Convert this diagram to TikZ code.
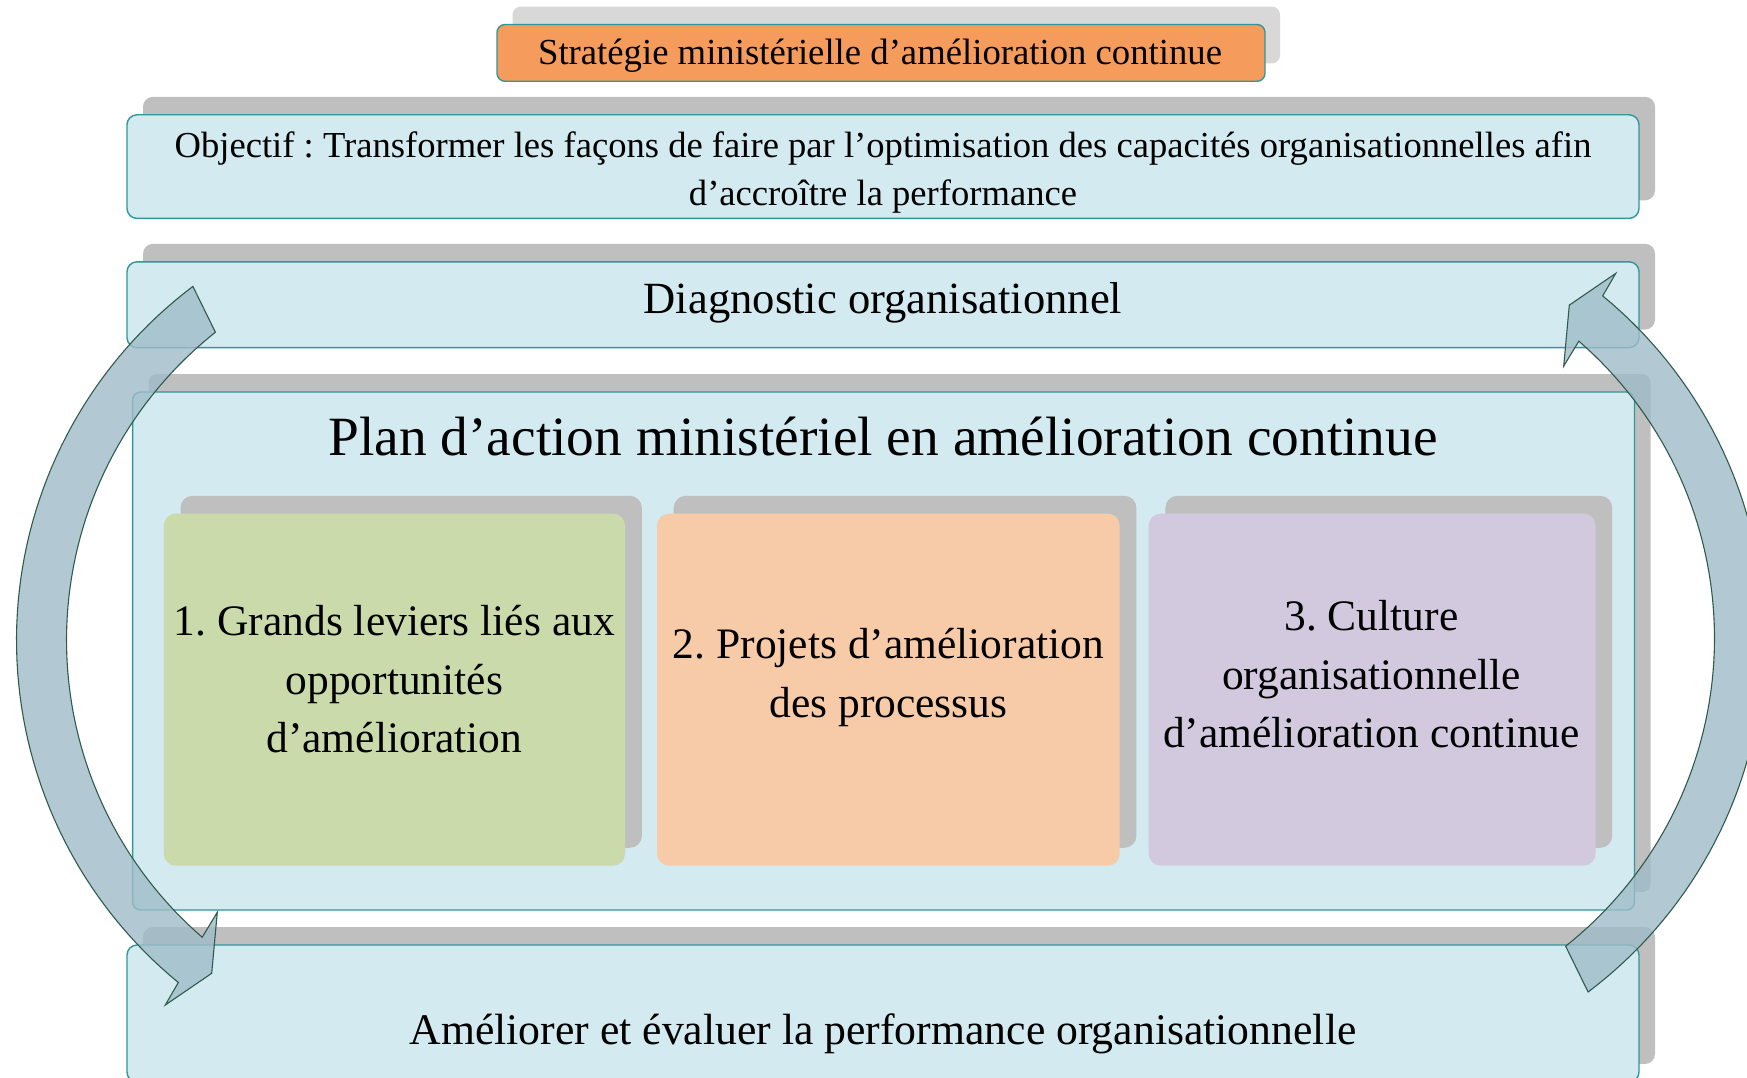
\documentclass[tikz,border=0pt]{standalone}
\usepackage{fontspec}
\setmainfont{Liberation Serif}
\frenchspacing

\definecolor{paleblue}{HTML}{D2EAF0}
\definecolor{tealline}{HTML}{31979B}
\definecolor{shadowgrey}{HTML}{BFBFBF}
\definecolor{lightgrey}{HTML}{D8D8D8}
\definecolor{titleorange}{HTML}{F59C5C}
\definecolor{leafgreen}{HTML}{CBDAAA}
\definecolor{peach}{HTML}{F8CBA8}
\definecolor{lilac}{HTML}{D2C9DF}
\definecolor{cyclefill}{HTML}{9FBCC9}
\definecolor{cycleline}{HTML}{2F5B4A}

\begin{document}
\begin{tikzpicture}[x=1pt,y=-1pt,
  panel/.style={draw=tealline, line width=1.4pt, fill=paleblue, rounded corners=10pt},
  backing/.style={fill=shadowgrey, rounded corners=10pt},
  tile/.style={rounded corners=12pt},
  label/.style={inner sep=0pt, align=center, text=black},
  cycle arrow/.style={fill=cyclefill, fill opacity=0.8, draw=cycleline, line width=1.1pt, line join=miter}
]
\useasboundingbox (0,0) rectangle (1747,1078);
\clip (0,0) rectangle (1747,1078);

% title banner
\path[fill=lightgrey, rounded corners=8pt] (512.5,6.7) rectangle (1280,63.5);
\path[draw=tealline, line width=1.4pt, fill=titleorange, rounded corners=8pt] (497,24.5) rectangle (1265,81.3);

% objective
\path[backing] (143,96.8) rectangle (1655,200.4);
\path[panel] (127,114.8) rectangle (1639,218.4);

% diagnostic
\path[backing] (143,243.8) rectangle (1655,329.6);
\path[panel] (127,261.8) rectangle (1639,347.6);

% action plan frame
\path[backing, rounded corners=8pt] (148.6,374) rectangle (1650.5,892);
\path[panel, rounded corners=8pt] (132.6,392) rectangle (1634.5,910);

% the three axes of the plan
\path[fill=shadowgrey, tile] (180.5,495.8) rectangle (641.8,847.8);
\path[fill=leafgreen, tile] (163.8,513.6) rectangle (625,865.7);
\path[fill=shadowgrey, tile] (673.7,495.8) rectangle (1136.4,847.8);
\path[fill=peach, tile] (657,513.6) rectangle (1119.7,865.7);
\path[fill=shadowgrey, tile] (1165.4,495.8) rectangle (1612.2,847.8);
\path[fill=lilac, tile] (1148.7,513.6) rectangle (1595.5,865.7);

% performance
\path[backing] (143,927) rectangle (1655,1064);
\path[panel] (127,945) rectangle (1639,1082);

% texts
\node[label, font=\fontsize{36.7pt}{44pt}\selectfont] (strategie) at (880,56)
  {Stratégie ministérielle d’amélioration continue};
\node[label, font=\fontsize{36.6pt}{48pt}\selectfont] (objectif) at (883,173)
  {Objectif : Transformer les façons de faire par l’optimisation des capacités organisationnelles afin\\d’accroître la performance};
\node[label, font=\fontsize{44.6pt}{54pt}\selectfont] (diagnostic) at (883,303)
  {Diagnostic organisationnel};
\node[label, font=\fontsize{55.4pt}{66pt}\selectfont] (plan) at (883,437)
  {Plan d’action ministériel en amélioration continue};
\node[label, font=\fontsize{43.5pt}{58.5pt}\selectfont] (leviers) at (394.4,679.5)
  {1. Grands leviers liés aux\\opportunités\\d’amélioration};
\node[label, font=\fontsize{43.5pt}{58.5pt}\selectfont] (projets) at (888.5,677.5)
  {2. Projets d’amélioration\\des processus};
\node[label, font=\fontsize{43.5pt}{58.5pt}\selectfont] (culture) at (1371.5,674.5)
  {3. Culture\\organisationnelle\\d’amélioration continue};
\node[label, font=\fontsize{43.7pt}{54pt}\selectfont] (performance) at (883,1033.5)
  {Améliorer et évaluer la performance organisationnelle};

% improvement cycle: left arrow runs downward, right arrow is its half-turn copy
\newcommand{\cyclearrow}{%
  \path[cycle arrow]
    plot[domain=233:129.4, samples=70] ({459.5+443*cos(\x)},{640.2+443*sin(\x)})
    -- (165.3,1005) -- (211.7,973.3) -- (217.3,912.3)
    -- plot[domain=130.9:231.6, samples=70] ({459.5+393*cos(\x)},{640.2+393*sin(\x)})
    -- cycle;}
\cyclearrow
\begin{scope}[rotate around={180:(890.5,639.2)}]
  \cyclearrow
\end{scope}
\end{tikzpicture}
\end{document}
